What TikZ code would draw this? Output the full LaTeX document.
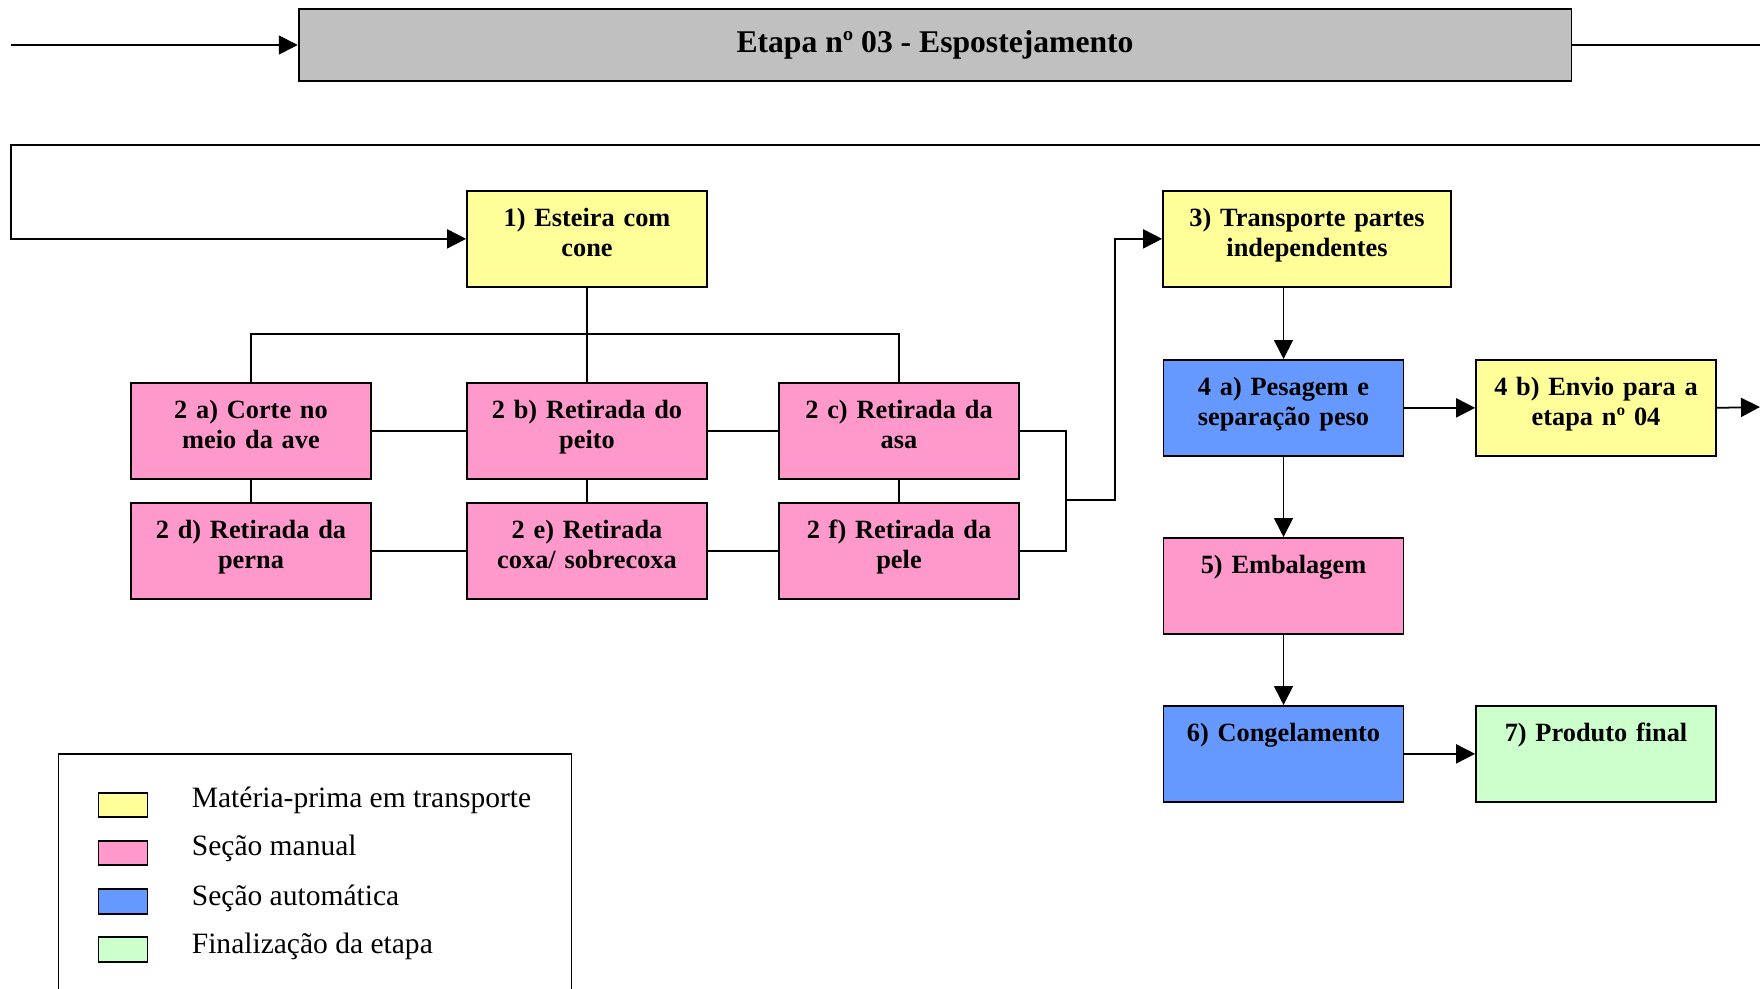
\documentclass[tikz,border=0pt]{standalone}
\usepackage{fontspec}
\setmainfont{Liberation Serif}
\usetikzlibrary{arrows.meta}
\definecolor{transpyellow}{HTML}{FFFF99}
\definecolor{manualpink}{HTML}{FF99CC}
\definecolor{autoblue}{HTML}{6699FF}
\definecolor{finalgreen}{HTML}{CCFFCC}
\definecolor{titlegray}{HTML}{C0C0C0}

\begin{document}
\begin{tikzpicture}[x=0.02cm, y=-0.02cm, line width=1pt,
>={Triangle[length=0.38cm,width=0.38cm]},
% common options for the process boxes:
block/.style = {draw, rectangle, align=center, anchor=north, inner sep=0,
            minimum width=4.8cm, minimum height=1.92cm, text width=4.6cm,
            text height=0.72cm, text depth=1.2cm,
            font=\fontsize{15}{17}\selectfont\bfseries},
% the stage title:
titlebox/.style = {draw, fill=titlegray, inner sep=0,
            minimum width=25.46cm, minimum height=1.44cm,
            font=\fontsize{18}{20}\selectfont\bfseries},
% legend:
swatch/.style = {draw, rectangle, minimum width=0.98cm, minimum height=0.49cm, inner sep=0},
legtext/.style = {anchor=base west, inner sep=0, font=\fontsize{16.8}{19}\selectfont}]
\useasboundingbox (0,0) rectangle (1760,989);
\node[titlebox] (T) at (935,45) {Etapa nº 03 - Espostejamento};
\coordinate (inA) at (11,45);
\coordinate (outA) at (1760,45);
\draw[->] (inA) to (T.west);
\draw (T.east) to (outA);
\node[block, fill=transpyellow] (E1) at (587,190) {1) Esteira com\\cone};
\node[block, fill=manualpink] (E2a) at (251,382) {2 a) Corte no\\meio da ave};
\node[block, fill=manualpink] (E2b) at (587,382) {2 b) Retirada do\\peito};
\node[block, fill=manualpink] (E2c) at (899,382) {2 c) Retirada da\\asa};
\node[block, fill=manualpink] (E2d) at (251,502) {2 d) Retirada da\\perna};
\node[block, fill=manualpink] (E2e) at (587,502) {2 e) Retirada\\coxa/ sobrecoxa};
\node[block, fill=manualpink] (E2f) at (899,502) {2 f) Retirada da\\pele};
\node[block, fill=transpyellow, minimum width=5.76cm, text width=5.5cm] (E3) at (1307,190) {3) Transporte partes\\independentes};
\node[block, fill=autoblue] (E4a) at (1283.5,359) {4 a) Pesagem e\\separação peso};
\node[block, fill=transpyellow] (E4b) at (1596,359) {4 b) Envio para a\\etapa nº 04};
\node[block, fill=manualpink] (E5) at (1283.5,537) {5) Embalagem};
\node[block, fill=autoblue] (E6) at (1283.5,705) {6) Congelamento};
\node[block, fill=finalgreen] (E7) at (1596,705) {7) Produto final};
% return line into the conveyor
\coordinate (loopR) at (1760,145);
\coordinate (loopL) at (11,145);
\draw[->] (loopR) to (loopL) |- (E1.west);
% conveyor to the cutting sections
\coordinate (bus) at (587,334);
\draw (E1.south) to (E2b.north);
\draw (E2a.north) |- (bus) -| (E2c.north);
\draw (E2a.east) to (E2b.west);
\draw (E2b.east) to (E2c.west);
\draw (E2d.east) to (E2e.west);
\draw (E2e.east) to (E2f.west);
\draw (E2a.south) to (E2d.north);
\draw (E2b.south) to (E2e.north);
\draw (E2c.south) to (E2f.north);
\coordinate (mrg) at (1066,500);
\coordinate (rise) at (1115,500);
\draw (E2c.east) -| (mrg) |- (E2f.east);
\draw[->] (mrg) to (rise) |- (E3.west);
% after the cutting sections
\coordinate (outB) at (1760,407);
\draw[->] (E3.south -| E4a.north) to (E4a.north);
\draw[->] (E4a.east) to (E4b.west);
\draw[->] (E4b.east) to (outB);
\draw[->] (E4a.south) to (E5.north);
\draw[->] (E5.south) to (E6.north);
\draw[->] (E6.east) to (E7.west);
% legend
\draw (58.5,1005) |- (571.5,754) -- (571.5,1005);
\node[swatch, fill=transpyellow] (K1) at (123,805) {};
\node[swatch, fill=manualpink] (K2) at (123,853) {};
\node[swatch, fill=autoblue] (K3) at (123,901.5) {};
\node[swatch, fill=finalgreen] (K4) at (123,949.5) {};
\node[legtext] (L1) at (191,807) {Matéria-prima em transporte};
\node[legtext] (L2) at (191,855) {Seção manual};
\node[legtext] (L3) at (191,905.5) {Seção automática};
\node[legtext] (L4) at (191,953) {Finalização da etapa};
\end{tikzpicture}
\end{document}
